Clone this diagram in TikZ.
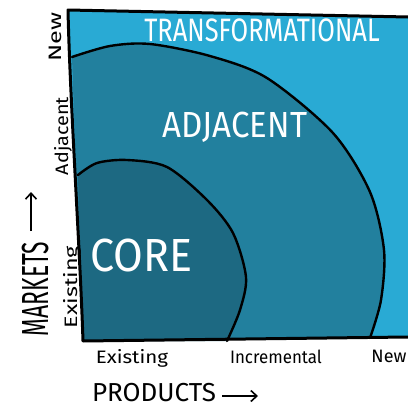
\documentclass[tikz,border=0pt]{standalone}
\usepackage{fontspec}
\setmainfont{Fira Sans}
\usetikzlibrary{arrows.meta}
\definecolor{cTrans}{HTML}{29AAD4}
\definecolor{cAdj}{HTML}{22809E}
\definecolor{cCore}{HTML}{1D6982}
\tikzset{
  region/.style={line width=2.4pt, line join=round, line cap=round},
  bigtext/.style={text=white, inner sep=0pt, font=\fontsize{24}{24}\selectfont},
  axtext/.style={text=black, inner sep=0pt, font=\fontsize{18}{18}\selectfont},
  axtitle/.style={text=black, inner sep=0pt, font=\fontsize{26}{26}\selectfont},
  axarrow/.style={-{Straight Barb[length=6pt,width=11pt]}, line width=1.6pt},
}
\begin{document}
\begin{tikzpicture}[x=1pt,y=-1pt]
\useasboundingbox (0,0) rectangle (408,407);
% outer (transformational)
\fill[cTrans] (68,10) -- (408,17) -- (408,337) -- (83,341) .. controls (80,250) and (70,100) .. cycle;
% adjacent
\fill[cAdj] plot[smooth] coordinates {(72,57) (110,46) (150,44) (210,56) (267,78) (333,133) (370,192) (384,250) (381,300) (370,338)}
  -- (83,341) .. controls (79,250) and (75,150) .. (72,57) -- cycle;
% core
\fill[cCore] plot[smooth] coordinates {(78,175) (97,163) (127,160) (167,167) (207,200) (233,233) (246,277) (240,310) (227,341)}
  -- (83,341) .. controls (81,280) and (79,220) .. (78,175) -- cycle;
% arcs
\draw[region] plot[smooth] coordinates {(72,57) (110,46) (150,44) (210,56) (267,78) (333,133) (370,192) (384,250) (381,300) (370,338)};
\draw[region] plot[smooth] coordinates {(78,175) (97,163) (127,160) (167,167) (207,200) (233,233) (246,277) (240,310) (227,341)};
% border
\draw[line width=3pt, line join=round] (408,17) -- (68,10) .. controls (70,100) and (80,250) .. (83,341) -- (408,337);
% labels
\node[bigtext] (trans) at (262,30) {\scalebox{1.06}[1.35]{TRANSFORMATIONAL}};
\node[bigtext, font=\fontsize{33}{33}\selectfont] (adj) at (235,127) {\scalebox{1}[1.1]{ADJACENT}};
\node[bigtext, font=\fontsize{43}{43}\selectfont] (core) at (141,255) {\scalebox{1}[1.08]{CORE}};
% market axis
\node[axtext, rotate=90] (mnew) at (55,37) {\scalebox{1.4}[1]{New}};
\node[axtext, rotate=90] (madj) at (63,136) {\scalebox{1.1}[1]{Adjacent}};
\node[axtext, rotate=90] (mex) at (72,287) {\scalebox{1.3}[1]{Existing}};
\node[axtitle, rotate=90] (markets) at (36,289) {\scalebox{0.88}[1.45]{MARKETS}};
\coordinate (mtip) at (31,192);
\draw[axarrow] (31,231) -- (mtip);
% product axis
\node[axtext, anchor=base] (pex) at (132,363) {\scalebox{1.14}[1]{Existing}};
\node[axtext, anchor=base] (pinc) at (276,363) {\scalebox{0.94}[1]{Incremental}};
\node[axtext, anchor=base] (pnew) at (389,362) {New};
\node[axtitle] (products) at (154,393) {PRODUCTS};
\coordinate (ptip) at (258,396);
\draw[axarrow] (222,396) -- (ptip);
\end{tikzpicture}
\end{document}
